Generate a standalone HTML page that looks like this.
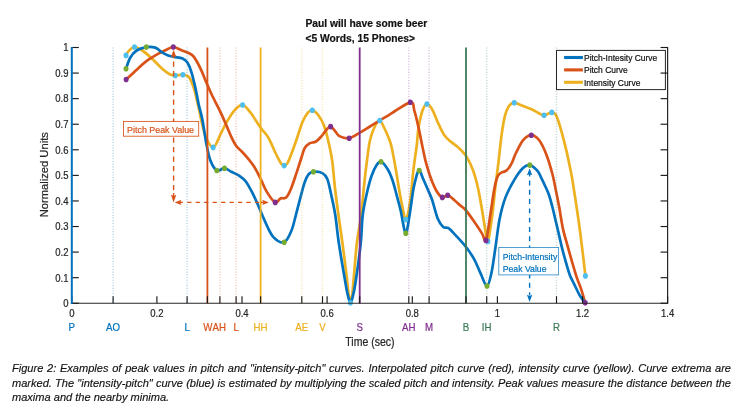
<!DOCTYPE html><html><head><meta charset="utf-8"><title>Figure 2</title><style>
html,body{margin:0;padding:0;background:#fff}body{width:747px;height:409px;position:relative;overflow:hidden;font-family:"Liberation Sans",Arial,sans-serif}
.cap{position:absolute;left:12.4px;width:719px;font-style:italic;font-size:11.05px;line-height:14px;color:#111;-webkit-text-stroke:0.15px #111;white-space:nowrap;letter-spacing:0px}
.j{text-align:justify;text-align-last:justify;white-space:normal}
body>*{opacity:.999;will-change:transform}
</style></head><body>
<svg width="747" height="409" viewBox="0 0 747 409" style="position:absolute;left:0;top:0" font-family="Liberation Sans, Arial, sans-serif"><style>text{stroke-width:0.2px;stroke-linejoin:round}</style>
<g>
<path d="M126.00 55.40C126.50 54.60 127.58 52.00 129.00 50.60C130.42 49.20 132.28 47.02 134.50 47.00C136.72 46.98 139.40 48.58 142.30 50.50C145.20 52.42 148.68 55.55 151.90 58.50C155.12 61.45 158.63 65.58 161.60 68.20C164.57 70.82 167.43 72.98 169.70 74.20C171.97 75.42 173.00 75.42 175.20 75.50C177.40 75.58 180.60 74.43 182.90 74.70C185.20 74.97 187.17 74.82 189.00 77.10C190.83 79.38 192.42 83.83 193.90 88.40C195.38 92.97 196.10 96.95 197.90 104.50C199.70 112.05 202.17 126.55 204.70 133.70C207.23 140.85 210.55 147.13 213.10 147.40C215.65 147.67 217.77 139.47 220.00 135.30C222.23 131.13 224.08 126.57 226.50 122.40C228.92 118.23 231.82 113.20 234.50 110.30C237.18 107.40 239.92 104.60 242.60 105.00C245.28 105.40 247.65 108.98 250.60 112.70C253.55 116.42 257.33 123.13 260.30 127.30C263.27 131.47 265.98 133.67 268.40 137.70C270.82 141.73 273.10 147.92 274.80 151.50C276.50 155.08 277.52 157.15 278.60 159.20C279.68 161.25 280.37 162.73 281.30 163.80C282.23 164.87 283.23 165.60 284.20 165.60C285.17 165.60 286.20 164.97 287.10 163.80C288.00 162.63 288.15 162.27 289.60 158.60C291.05 154.93 293.68 147.83 295.80 141.80C297.92 135.77 300.28 127.25 302.30 122.40C304.32 117.55 306.23 114.72 307.90 112.70C309.57 110.68 310.55 109.88 312.30 110.30C314.05 110.72 316.45 112.65 318.40 115.20C320.35 117.75 322.38 121.43 324.00 125.60C325.62 129.77 326.75 134.42 328.10 140.20C329.45 145.98 330.92 152.00 332.10 160.30C333.28 168.60 334.13 180.83 335.20 190.00C336.27 199.17 337.25 206.13 338.50 215.30C339.75 224.47 341.37 235.05 342.70 245.00C344.03 254.95 345.52 266.83 346.50 275.00C347.48 283.17 347.95 289.37 348.60 294.00C349.25 298.63 349.78 302.80 350.40 302.80C351.02 302.80 351.70 298.63 352.30 294.00C352.90 289.37 353.25 283.42 354.00 275.00C354.75 266.58 355.62 253.45 356.80 243.50C357.98 233.55 359.83 225.50 361.10 215.30C362.37 205.10 363.42 191.47 364.40 182.30C365.38 173.13 366.07 167.32 367.00 160.30C367.93 153.28 368.70 145.83 370.00 140.20C371.30 134.57 373.18 129.78 374.80 126.50C376.42 123.22 378.08 120.17 379.70 120.50C381.32 120.83 382.88 125.28 384.50 128.50C386.12 131.72 388.18 136.55 389.40 139.80C390.62 143.05 390.73 143.10 391.80 148.00C392.87 152.90 394.47 161.63 395.80 169.20C397.13 176.77 398.58 186.55 399.80 193.40C401.02 200.25 402.32 206.33 403.10 210.30C403.88 214.27 404.05 215.65 404.50 217.20C404.95 218.75 405.37 219.60 405.80 219.60C406.23 219.60 406.62 218.75 407.10 217.20C407.58 215.65 408.03 214.27 408.70 210.30C409.37 206.33 410.30 200.25 411.10 193.40C411.90 186.55 412.55 177.27 413.50 169.20C414.45 161.13 415.98 151.78 416.80 145.00C417.62 138.22 417.47 134.20 418.40 128.50C419.33 122.80 420.98 114.88 422.40 110.80C423.82 106.72 425.28 104.27 426.90 104.00C428.52 103.73 430.30 106.18 432.10 109.20C433.90 112.22 435.68 117.80 437.70 122.10C439.72 126.40 442.05 131.77 444.20 135.00C446.35 138.23 448.18 139.35 450.60 141.50C453.02 143.65 456.00 145.30 458.70 147.90C461.40 150.50 464.38 153.28 466.80 157.10C469.22 160.92 471.32 165.57 473.20 170.80C475.08 176.03 476.62 181.92 478.10 188.50C479.58 195.08 480.95 203.72 482.10 210.30C483.25 216.88 484.03 222.82 485.00 228.00C485.97 233.18 486.68 243.57 487.90 241.40C489.12 239.23 491.08 223.78 492.30 215.00C493.52 206.22 494.23 197.00 495.20 188.70C496.17 180.40 497.00 174.42 498.10 165.20C499.20 155.98 500.65 141.67 501.80 133.40C502.95 125.13 503.80 120.17 505.00 115.60C506.20 111.03 507.47 108.15 509.00 106.00C510.53 103.85 512.05 102.77 514.20 102.70C516.35 102.63 519.00 104.52 521.90 105.60C524.80 106.68 528.77 107.93 531.60 109.20C534.43 110.47 536.83 112.20 538.90 113.20C540.97 114.20 541.85 115.33 544.00 115.20C546.15 115.07 549.83 112.47 551.80 112.40C553.77 112.33 554.47 112.60 555.80 114.80C557.13 117.00 558.45 121.30 559.80 125.60C561.15 129.90 562.68 135.93 563.90 140.60C565.12 145.27 566.08 149.12 567.10 153.60C568.12 158.08 569.07 162.80 570.00 167.50C570.93 172.20 571.30 173.17 572.70 181.80C574.10 190.43 576.82 208.17 578.40 219.30C579.98 230.43 581.03 239.17 582.20 248.60C583.37 258.03 584.87 271.35 585.40 275.90" fill="none" stroke="#EDB120" stroke-width="2.7" stroke-linejoin="round" stroke-linecap="round"/>
<path d="M126.10 79.50C127.72 78.02 132.57 73.55 135.80 70.60C139.03 67.65 141.73 64.62 145.50 61.80C149.27 58.98 154.90 55.72 158.40 53.70C161.90 51.68 164.02 50.82 166.50 49.70C168.98 48.58 170.88 46.95 173.30 47.00C175.72 47.05 178.38 48.97 181.00 50.00C183.62 51.03 186.85 52.05 189.00 53.20C191.15 54.35 192.02 54.40 193.90 56.90C195.78 59.40 198.15 63.77 200.30 68.20C202.45 72.63 204.87 79.03 206.80 83.50C208.73 87.97 209.70 90.40 211.90 95.00C214.10 99.60 217.57 106.00 220.00 111.10C222.43 116.20 224.62 121.30 226.50 125.60C228.38 129.90 229.70 133.53 231.30 136.90C232.90 140.27 234.40 143.42 236.10 145.80C237.80 148.18 239.60 149.20 241.50 151.20C243.40 153.20 245.43 155.28 247.50 157.80C249.57 160.32 251.77 162.90 253.90 166.30C256.03 169.70 258.15 173.93 260.30 178.20C262.45 182.47 264.32 187.87 266.80 191.90C269.28 195.93 272.92 201.32 275.20 202.40C277.48 203.48 278.68 199.20 280.50 198.40C282.32 197.60 284.35 199.22 286.10 197.60C287.85 195.98 289.25 192.87 291.00 188.70C292.75 184.53 295.00 177.33 296.60 172.60C298.20 167.87 299.25 164.37 300.60 160.30C301.95 156.23 303.22 151.02 304.70 148.20C306.18 145.38 307.62 144.52 309.50 143.40C311.38 142.28 313.98 142.72 316.00 141.50C318.02 140.28 319.85 138.07 321.60 136.10C323.35 134.13 325.00 131.28 326.50 129.70C328.00 128.12 329.13 126.33 330.60 126.60C332.07 126.87 333.83 129.72 335.30 131.30C336.77 132.88 337.08 134.95 339.40 136.10C341.72 137.25 345.85 138.73 349.20 138.20C352.55 137.67 356.03 134.85 359.50 132.90C362.97 130.95 366.63 128.57 370.00 126.50C373.37 124.43 376.37 122.52 379.70 120.50C383.03 118.48 384.90 117.43 390.00 114.40C395.10 111.37 406.23 102.90 410.30 102.30C414.37 101.70 413.05 106.70 414.40 110.80C415.75 114.90 416.93 120.32 418.40 126.90C419.87 133.48 422.00 144.60 423.20 150.30C424.40 156.00 424.38 156.60 425.60 161.10C426.82 165.60 428.75 172.45 430.50 177.30C432.25 182.15 434.13 186.85 436.10 190.20C438.07 193.55 440.37 196.55 442.30 197.40C444.23 198.25 445.77 194.90 447.70 195.30C449.63 195.70 451.80 198.10 453.90 199.80C456.00 201.50 458.42 203.88 460.30 205.50C462.18 207.12 462.90 206.83 465.20 209.50C467.50 212.17 471.28 217.48 474.10 221.50C476.92 225.52 480.12 230.45 482.10 233.60C484.08 236.75 484.63 243.50 486.00 240.40C487.37 237.30 489.03 222.90 490.30 215.00C491.57 207.10 492.68 198.50 493.60 193.00C494.52 187.50 495.07 184.90 495.80 182.00C496.53 179.10 497.08 177.17 498.00 175.60C498.92 174.03 500.02 173.37 501.30 172.60C502.58 171.83 504.42 171.82 505.70 171.00C506.98 170.18 507.90 169.20 509.00 167.70C510.10 166.20 511.18 164.37 512.30 162.00C513.42 159.63 513.92 157.12 515.70 153.50C517.48 149.88 520.40 143.35 523.00 140.30C525.60 137.25 528.60 135.20 531.30 135.20C534.00 135.20 536.67 137.02 539.20 140.30C541.73 143.58 544.30 149.28 546.50 154.90C548.70 160.52 550.85 168.15 552.40 174.00C553.95 179.85 554.65 184.40 555.80 190.00C556.95 195.60 558.13 201.25 559.30 207.60C560.47 213.95 561.43 221.75 562.80 228.10C564.17 234.45 565.88 239.83 567.50 245.70C569.12 251.57 570.93 257.93 572.50 263.30C574.07 268.67 575.43 273.52 576.90 277.90C578.37 282.28 579.92 285.45 581.30 289.60C582.68 293.75 584.55 300.60 585.20 302.80" fill="none" stroke="#D95319" stroke-width="2.7" stroke-linejoin="round" stroke-linecap="round"/>
<path d="M126.00 68.80C126.70 66.95 128.43 60.75 130.20 57.70C131.97 54.65 133.92 52.27 136.60 50.50C139.28 48.73 143.20 47.58 146.30 47.10C149.40 46.62 152.65 46.77 155.20 47.60C157.75 48.43 159.45 50.77 161.60 52.10C163.75 53.43 165.95 54.80 168.10 55.60C170.25 56.40 172.08 56.42 174.50 56.90C176.92 57.38 180.45 57.55 182.60 58.50C184.75 59.45 185.92 60.30 187.40 62.60C188.88 64.90 190.15 68.00 191.50 72.30C192.85 76.60 194.30 83.03 195.50 88.40C196.70 93.77 197.57 99.37 198.70 104.50C199.83 109.63 201.03 112.72 202.30 119.20C203.57 125.68 204.97 136.55 206.30 143.40C207.63 150.25 208.55 155.78 210.30 160.30C212.05 164.82 214.43 169.18 216.80 170.50C219.17 171.82 222.08 167.98 224.50 168.20C226.92 168.42 228.82 170.53 231.30 171.80C233.78 173.07 236.98 174.18 239.40 175.80C241.82 177.42 243.65 178.68 245.80 181.50C247.95 184.32 250.28 188.82 252.30 192.70C254.32 196.58 255.67 199.75 257.90 204.80C260.13 209.85 263.12 217.62 265.70 223.00C268.28 228.38 270.32 233.90 273.40 237.10C276.48 240.30 281.20 243.27 284.20 242.20C287.20 241.13 289.47 235.18 291.40 230.70C293.33 226.22 294.27 220.95 295.80 215.30C297.33 209.65 299.12 202.30 300.60 196.80C302.08 191.30 303.35 186.07 304.70 182.30C306.05 178.53 307.23 175.95 308.70 174.20C310.17 172.45 311.22 171.98 313.50 171.80C315.78 171.62 320.10 171.90 322.40 173.10C324.70 174.30 325.82 175.32 327.30 179.00C328.78 182.68 329.97 189.15 331.30 195.20C332.63 201.25 334.03 207.25 335.30 215.30C336.57 223.35 337.23 232.38 338.90 243.50C340.57 254.62 343.78 273.25 345.30 282.00C346.82 290.75 347.15 292.53 348.00 296.00C348.85 299.47 349.58 302.80 350.40 302.80C351.22 302.80 352.03 299.47 352.90 296.00C353.77 292.53 354.30 290.75 355.60 282.00C356.90 273.25 359.52 254.62 360.70 243.50C361.88 232.38 361.68 223.63 362.70 215.30C363.72 206.97 365.32 200.08 366.80 193.50C368.28 186.92 369.98 180.50 371.60 175.80C373.22 171.10 374.93 167.65 376.50 165.30C378.07 162.95 379.13 161.05 381.00 161.70C382.87 162.35 385.77 166.07 387.70 169.20C389.63 172.33 391.12 176.20 392.60 180.50C394.08 184.80 395.27 190.03 396.60 195.00C397.93 199.97 399.32 204.55 400.60 210.30C401.88 216.05 403.43 225.67 404.30 229.50C405.17 233.33 405.32 233.30 405.80 233.30C406.28 233.30 406.45 233.33 407.20 229.50C407.95 225.67 409.25 217.13 410.30 210.30C411.35 203.47 412.42 194.42 413.50 188.50C414.58 182.58 416.05 177.60 416.80 174.80C417.55 172.00 417.60 172.40 418.00 171.70C418.40 171.00 418.77 170.48 419.20 170.60C419.63 170.72 419.93 171.02 420.60 172.40C421.27 173.78 421.95 175.93 423.20 178.90C424.45 181.87 426.62 186.72 428.10 190.20C429.58 193.68 430.48 195.03 432.10 199.80C433.72 204.57 435.95 214.28 437.80 218.80C439.65 223.32 441.42 225.33 443.20 226.90C444.98 228.47 446.27 226.63 448.50 228.20C450.73 229.77 453.68 233.17 456.60 236.30C459.52 239.43 463.08 243.20 466.00 247.00C468.92 250.80 471.63 254.62 474.10 259.10C476.57 263.58 478.65 269.42 480.80 273.90C482.95 278.38 485.22 286.22 487.00 286.00C488.78 285.78 490.10 278.97 491.50 272.60C492.90 266.23 494.05 256.73 495.40 247.80C496.75 238.87 497.92 227.40 499.60 219.00C501.28 210.60 503.05 203.92 505.50 197.40C507.95 190.88 511.38 184.78 514.30 179.90C517.22 175.02 520.42 170.57 523.00 168.10C525.58 165.63 527.35 164.60 529.80 165.10C532.25 165.60 535.75 168.87 537.70 171.10C539.65 173.33 540.28 176.07 541.50 178.50C542.72 180.93 543.75 182.95 545.00 185.70C546.25 188.45 547.77 191.45 549.00 195.00C550.23 198.55 551.40 203.17 552.40 207.00C553.40 210.83 554.07 214.08 555.00 218.00C555.93 221.92 556.80 225.40 558.00 230.50C559.20 235.60 560.80 243.02 562.20 248.60C563.60 254.18 565.10 259.52 566.40 264.00C567.70 268.48 568.73 272.20 570.00 275.50C571.27 278.80 572.37 280.47 574.00 283.80C575.63 287.13 577.93 292.33 579.80 295.50C581.67 298.67 584.30 301.58 585.20 302.80" fill="none" stroke="#0072BD" stroke-width="2.7" stroke-linejoin="round" stroke-linecap="round"/>
<line x1="113.1" y1="47.5" x2="113.1" y2="303.2" stroke="#0072BD" stroke-width="1.4" stroke-dasharray="1.1 1.6" opacity="0.3"/>
<line x1="187.1" y1="47.5" x2="187.1" y2="303.2" stroke="#0072BD" stroke-width="1.4" stroke-dasharray="1.1 1.6" opacity="0.3"/>
<line x1="219.9" y1="47.5" x2="219.9" y2="303.2" stroke="#D95319" stroke-width="1.4" stroke-dasharray="1.1 1.6" opacity="0.3"/>
<line x1="236.1" y1="47.5" x2="236.1" y2="303.2" stroke="#D95319" stroke-width="1.4" stroke-dasharray="1.1 1.6" opacity="0.3"/>
<line x1="301.8" y1="47.5" x2="301.8" y2="303.2" stroke="#EDB120" stroke-width="1.4" stroke-dasharray="1.1 1.6" opacity="0.3"/>
<line x1="322.5" y1="47.5" x2="322.5" y2="303.2" stroke="#EDB120" stroke-width="1.4" stroke-dasharray="1.1 1.6" opacity="0.3"/>
<line x1="408.8" y1="47.5" x2="408.8" y2="303.2" stroke="#7E2F8E" stroke-width="1.4" stroke-dasharray="1.1 1.6" opacity="0.3"/>
<line x1="429.1" y1="47.5" x2="429.1" y2="303.2" stroke="#7E2F8E" stroke-width="1.4" stroke-dasharray="1.1 1.6" opacity="0.3"/>
<line x1="486.7" y1="47.5" x2="486.7" y2="303.2" stroke="#3B7A57" stroke-width="1.4" stroke-dasharray="1.1 1.6" opacity="0.3"/>
<line x1="556.5" y1="47.5" x2="556.5" y2="303.2" stroke="#3B7A57" stroke-width="1.4" stroke-dasharray="1.1 1.6" opacity="0.3"/>
<line x1="207.4" y1="47.5" x2="207.4" y2="303.2" stroke="#D95319" stroke-width="1.8"/>
<line x1="260.6" y1="47.5" x2="260.6" y2="303.2" stroke="#EDB120" stroke-width="1.8"/>
<line x1="359.7" y1="47.5" x2="359.7" y2="303.2" stroke="#7E2F8E" stroke-width="1.8"/>
<line x1="466.0" y1="47.5" x2="466.0" y2="303.2" stroke="#3B7A57" stroke-width="1.8"/>
<ellipse cx="126.0" cy="55.4" rx="2.5" ry="2.82" fill="#4DBEEE"/>
<ellipse cx="134.5" cy="47.0" rx="2.5" ry="2.82" fill="#4DBEEE"/>
<ellipse cx="175.2" cy="75.5" rx="2.5" ry="2.82" fill="#4DBEEE"/>
<ellipse cx="182.9" cy="74.7" rx="2.5" ry="2.82" fill="#4DBEEE"/>
<ellipse cx="213.1" cy="147.4" rx="2.5" ry="2.82" fill="#4DBEEE"/>
<ellipse cx="242.6" cy="105.0" rx="2.5" ry="2.82" fill="#4DBEEE"/>
<ellipse cx="284.2" cy="165.6" rx="2.5" ry="2.82" fill="#4DBEEE"/>
<ellipse cx="312.3" cy="110.3" rx="2.5" ry="2.82" fill="#4DBEEE"/>
<ellipse cx="350.4" cy="302.8" rx="2.5" ry="2.82" fill="#4DBEEE"/>
<ellipse cx="379.7" cy="120.5" rx="2.5" ry="2.82" fill="#4DBEEE"/>
<ellipse cx="405.8" cy="219.6" rx="2.5" ry="2.82" fill="#4DBEEE"/>
<ellipse cx="426.9" cy="104.0" rx="2.5" ry="2.82" fill="#4DBEEE"/>
<ellipse cx="487.9" cy="241.4" rx="2.5" ry="2.82" fill="#4DBEEE"/>
<ellipse cx="514.2" cy="102.7" rx="2.5" ry="2.82" fill="#4DBEEE"/>
<ellipse cx="544.0" cy="115.2" rx="2.5" ry="2.82" fill="#4DBEEE"/>
<ellipse cx="551.8" cy="112.4" rx="2.5" ry="2.82" fill="#4DBEEE"/>
<ellipse cx="585.4" cy="275.9" rx="2.5" ry="2.82" fill="#4DBEEE"/>
<ellipse cx="126.0" cy="68.8" rx="2.5" ry="2.82" fill="#77AC30"/>
<ellipse cx="146.3" cy="47.1" rx="2.5" ry="2.82" fill="#77AC30"/>
<ellipse cx="216.8" cy="170.5" rx="2.5" ry="2.82" fill="#77AC30"/>
<ellipse cx="224.5" cy="168.2" rx="2.5" ry="2.82" fill="#77AC30"/>
<ellipse cx="284.2" cy="242.2" rx="2.5" ry="2.82" fill="#77AC30"/>
<ellipse cx="313.5" cy="171.8" rx="2.5" ry="2.82" fill="#77AC30"/>
<ellipse cx="381.0" cy="161.7" rx="2.5" ry="2.82" fill="#77AC30"/>
<ellipse cx="405.8" cy="233.3" rx="2.5" ry="2.82" fill="#77AC30"/>
<ellipse cx="419.2" cy="170.5" rx="2.5" ry="2.82" fill="#77AC30"/>
<ellipse cx="487.0" cy="286.0" rx="2.5" ry="2.82" fill="#77AC30"/>
<ellipse cx="529.8" cy="165.1" rx="2.5" ry="2.82" fill="#77AC30"/>
<ellipse cx="126.1" cy="79.5" rx="2.5" ry="2.82" fill="#7E2F8E"/>
<ellipse cx="173.3" cy="47.0" rx="2.5" ry="2.82" fill="#7E2F8E"/>
<ellipse cx="275.2" cy="202.4" rx="2.5" ry="2.82" fill="#7E2F8E"/>
<ellipse cx="330.6" cy="126.6" rx="2.5" ry="2.82" fill="#7E2F8E"/>
<ellipse cx="349.2" cy="138.2" rx="2.5" ry="2.82" fill="#7E2F8E"/>
<ellipse cx="410.3" cy="102.3" rx="2.5" ry="2.82" fill="#7E2F8E"/>
<ellipse cx="442.3" cy="197.4" rx="2.5" ry="2.82" fill="#7E2F8E"/>
<ellipse cx="447.7" cy="195.3" rx="2.5" ry="2.82" fill="#7E2F8E"/>
<ellipse cx="486.0" cy="240.4" rx="2.5" ry="2.82" fill="#7E2F8E"/>
<ellipse cx="531.3" cy="135.2" rx="2.5" ry="2.82" fill="#7E2F8E"/>
<ellipse cx="585.2" cy="302.8" rx="2.5" ry="2.82" fill="#7E2F8E"/>
<g stroke="#D95319" stroke-width="1.4" fill="none">
<line x1="173.6" y1="61.5" x2="173.6" y2="191" stroke-dasharray="5.2 4.3"/>
<line x1="173.6" y1="56" x2="173.6" y2="58.3"/><line x1="173.6" y1="193" x2="173.6" y2="196"/>
<line x1="187.2" y1="202.4" x2="260" y2="202.4" stroke-dasharray="4.2 4.27"/>
<line x1="180" y1="202.4" x2="182.8" y2="202.4"/><line x1="261" y1="202.4" x2="263.4" y2="202.4"/>
</g>
<path d="M173.6 49.7 L176.3 57.1 L173.6 56 L170.9 57.1Z" fill="#D95319"/>
<path d="M173.6 202.4 L176.3 194.8 L173.6 196 L170.9 194.8Z" fill="#D95319"/>
<path d="M174.7 202.4 L181.3 199.8 L180.3 202.4 L181.3 205Z" fill="#D95319"/>
<path d="M268.8 202.4 L262.3 199.8 L263.3 202.4 L262.3 205Z" fill="#D95319"/>
<g stroke="#0072BD" stroke-width="1.4" fill="none">
<line x1="529.6" y1="180.5" x2="529.6" y2="290" stroke-dasharray="4.9 4.4"/>
<line x1="529.6" y1="174" x2="529.6" y2="176.5"/><line x1="529.6" y1="292.3" x2="529.6" y2="295.5"/>
</g>
<path d="M529.6 168.6 L532.3 175.3 L529.6 174.2 L526.9 175.3Z" fill="#0072BD"/>
<path d="M529.6 301.9 L532.3 294.8 L529.6 296 L526.9 294.8Z" fill="#0072BD"/>
<rect x="123.5" y="121.4" width="75.2" height="14.8" fill="#fff" stroke="#D95319" stroke-width="0.85"/>
<text stroke-width="0" transform="translate(127.1 133.2) scale(1 1.0)" font-size="8.9" fill="#D95319" stroke="#D95319">Pitch Peak Value</text>
<rect x="498.8" y="247.5" width="59.8" height="27.4" fill="#fff" stroke="#0072BD" stroke-width="0.85" stroke-opacity="0.8"/>
<text stroke-width="0" transform="translate(502.7 259.9) scale(1 1.0)" font-size="8.7" fill="#0072BD" stroke="#0072BD">Pitch-Intensity</text>
<text stroke-width="0" transform="translate(502.7 272.1) scale(1 1.0)" font-size="8.7" fill="#0072BD" stroke="#0072BD">Peak Value</text>
<rect x="556.5" y="50.4" width="108.9" height="39.2" fill="#fff" stroke="#262626" stroke-width="1"/>
<line x1="564.1" y1="57.5" x2="582.9" y2="57.5" stroke="#0072BD" stroke-width="3.1"/>
<text transform="translate(584.0 61.0) scale(1 1.13)" font-size="8.46" fill="#111" stroke="#111">Pitch-Intesity Curve</text>
<line x1="564.1" y1="69.9" x2="582.9" y2="69.9" stroke="#D95319" stroke-width="3.1"/>
<text transform="translate(584.0 73.4) scale(1 1.13)" font-size="8.46" fill="#111" stroke="#111">Pitch Curve</text>
<line x1="564.1" y1="82.3" x2="582.9" y2="82.3" stroke="#EDB120" stroke-width="3.1"/>
<text transform="translate(584.0 85.8) scale(1 1.13)" font-size="8.46" fill="#111" stroke="#111">Intensity Curve</text>
<g stroke="#262626" stroke-width="1.2" fill="none">
<line x1="70.8" y1="303.25" x2="668.2" y2="303.25"/>
<line x1="667.6" y1="46.90" x2="667.6" y2="303.25"/>
</g><g stroke="#1a1a1a" stroke-width="1.15" fill="none">
<line x1="71.8" y1="303.25" x2="71.8" y2="296.25"/>
<line x1="156.9" y1="303.25" x2="156.9" y2="296.25"/>
<line x1="242.0" y1="303.25" x2="242.0" y2="296.25"/>
<line x1="327.1" y1="303.25" x2="327.1" y2="296.25"/>
<line x1="412.3" y1="303.25" x2="412.3" y2="296.25"/>
<line x1="497.4" y1="303.25" x2="497.4" y2="296.25"/>
<line x1="582.5" y1="303.25" x2="582.5" y2="296.25"/>
<line x1="667.6" y1="303.25" x2="667.6" y2="296.25"/>
<line x1="113.1" y1="303.25" x2="113.1" y2="296.25"/>
<line x1="187.1" y1="303.25" x2="187.1" y2="296.25"/>
<line x1="207.4" y1="303.25" x2="207.4" y2="296.25"/>
<line x1="219.9" y1="303.25" x2="219.9" y2="296.25"/>
<line x1="236.1" y1="303.25" x2="236.1" y2="296.25"/>
<line x1="260.6" y1="303.25" x2="260.6" y2="296.25"/>
<line x1="301.8" y1="303.25" x2="301.8" y2="296.25"/>
<line x1="322.5" y1="303.25" x2="322.5" y2="296.25"/>
<line x1="359.7" y1="303.25" x2="359.7" y2="296.25"/>
<line x1="408.8" y1="303.25" x2="408.8" y2="296.25"/>
<line x1="429.1" y1="303.25" x2="429.1" y2="296.25"/>
<line x1="466.0" y1="303.25" x2="466.0" y2="296.25"/>
<line x1="486.7" y1="303.25" x2="486.7" y2="296.25"/>
<line x1="556.5" y1="303.25" x2="556.5" y2="296.25"/>
<line x1="71.8" y1="303.25" x2="78.8" y2="303.25"/>
<line x1="667.6" y1="303.25" x2="660.6" y2="303.25"/>
<line x1="71.8" y1="277.68" x2="78.8" y2="277.68"/>
<line x1="667.6" y1="277.68" x2="660.6" y2="277.68"/>
<line x1="71.8" y1="252.10" x2="78.8" y2="252.10"/>
<line x1="667.6" y1="252.10" x2="660.6" y2="252.10"/>
<line x1="71.8" y1="226.53" x2="78.8" y2="226.53"/>
<line x1="667.6" y1="226.53" x2="660.6" y2="226.53"/>
<line x1="71.8" y1="200.95" x2="78.8" y2="200.95"/>
<line x1="667.6" y1="200.95" x2="660.6" y2="200.95"/>
<line x1="71.8" y1="175.38" x2="78.8" y2="175.38"/>
<line x1="667.6" y1="175.38" x2="660.6" y2="175.38"/>
<line x1="71.8" y1="149.80" x2="78.8" y2="149.80"/>
<line x1="667.6" y1="149.80" x2="660.6" y2="149.80"/>
<line x1="71.8" y1="124.23" x2="78.8" y2="124.23"/>
<line x1="667.6" y1="124.23" x2="660.6" y2="124.23"/>
<line x1="71.8" y1="98.65" x2="78.8" y2="98.65"/>
<line x1="667.6" y1="98.65" x2="660.6" y2="98.65"/>
<line x1="71.8" y1="73.07" x2="78.8" y2="73.07"/>
<line x1="667.6" y1="73.07" x2="660.6" y2="73.07"/>
<line x1="71.8" y1="47.50" x2="78.8" y2="47.50"/>
<line x1="667.6" y1="47.50" x2="660.6" y2="47.50"/>
</g>
<line x1="71.8" y1="46.90" x2="71.8" y2="303.75" stroke="#0072BD" stroke-width="2"/>
<g font-size="9.5" fill="#262626" stroke="#262626">
<text transform="translate(71.8 317.2) scale(1 1.13)" text-anchor="middle">0</text>
<text transform="translate(156.9 317.2) scale(1 1.13)" text-anchor="middle">0.2</text>
<text transform="translate(242.0 317.2) scale(1 1.13)" text-anchor="middle">0.4</text>
<text transform="translate(327.1 317.2) scale(1 1.13)" text-anchor="middle">0.6</text>
<text transform="translate(412.3 317.2) scale(1 1.13)" text-anchor="middle">0.8</text>
<text transform="translate(497.4 317.2) scale(1 1.13)" text-anchor="middle">1</text>
<text transform="translate(582.5 317.2) scale(1 1.13)" text-anchor="middle">1.2</text>
<text transform="translate(667.6 317.2) scale(1 1.13)" text-anchor="middle">1.4</text>
<text transform="translate(68.5 307.1) scale(1 1.13)" text-anchor="end">0</text>
<text transform="translate(68.5 281.5) scale(1 1.13)" text-anchor="end">0.1</text>
<text transform="translate(68.5 255.9) scale(1 1.13)" text-anchor="end">0.2</text>
<text transform="translate(68.5 230.3) scale(1 1.13)" text-anchor="end">0.3</text>
<text transform="translate(68.5 204.8) scale(1 1.13)" text-anchor="end">0.4</text>
<text transform="translate(68.5 179.2) scale(1 1.13)" text-anchor="end">0.5</text>
<text transform="translate(68.5 153.6) scale(1 1.13)" text-anchor="end">0.6</text>
<text transform="translate(68.5 128.0) scale(1 1.13)" text-anchor="end">0.7</text>
<text transform="translate(68.5 102.4) scale(1 1.13)" text-anchor="end">0.8</text>
<text transform="translate(68.5 76.9) scale(1 1.13)" text-anchor="end">0.9</text>
<text transform="translate(68.5 51.3) scale(1 1.13)" text-anchor="end">1</text>
</g>
<g font-size="9.7">
<text transform="translate(71.8 331.0) scale(1 1.13)" fill="#0072BD" stroke="#0072BD" text-anchor="middle">P</text>
<text transform="translate(113.1 331.0) scale(1 1.13)" fill="#0072BD" stroke="#0072BD" text-anchor="middle">AO</text>
<text transform="translate(187.1 331.0) scale(1 1.13)" fill="#0072BD" stroke="#0072BD" text-anchor="middle">L</text>
<text transform="translate(207.7 331.0) scale(1 1.13)" fill="#D95319" stroke="#D95319" text-anchor="middle">W</text>
<text transform="translate(219.2 331.0) scale(1 1.13)" fill="#D95319" stroke="#D95319" text-anchor="middle">AH</text>
<text transform="translate(236.1 331.0) scale(1 1.13)" fill="#D95319" stroke="#D95319" text-anchor="middle">L</text>
<text transform="translate(260.6 331.0) scale(1 1.13)" fill="#EDB120" stroke="#EDB120" text-anchor="middle">HH</text>
<text transform="translate(301.8 331.0) scale(1 1.13)" fill="#EDB120" stroke="#EDB120" text-anchor="middle">AE</text>
<text transform="translate(322.5 331.0) scale(1 1.13)" fill="#EDB120" stroke="#EDB120" text-anchor="middle">V</text>
<text transform="translate(359.7 331.0) scale(1 1.13)" fill="#7E2F8E" stroke="#7E2F8E" text-anchor="middle">S</text>
<text transform="translate(408.8 331.0) scale(1 1.13)" fill="#7E2F8E" stroke="#7E2F8E" text-anchor="middle">AH</text>
<text transform="translate(429.1 331.0) scale(1 1.13)" fill="#7E2F8E" stroke="#7E2F8E" text-anchor="middle">M</text>
<text transform="translate(466.0 331.0) scale(1 1.13)" fill="#3B7A57" stroke="#3B7A57" text-anchor="middle">B</text>
<text transform="translate(486.7 331.0) scale(1 1.13)" fill="#3B7A57" stroke="#3B7A57" text-anchor="middle">IH</text>
<text transform="translate(556.5 331.0) scale(1 1.13)" fill="#3B7A57" stroke="#3B7A57" text-anchor="middle">R</text>
</g>
<text transform="translate(369.9 345.5) scale(1 1.13)" font-size="10.5" fill="#262626" stroke="#262626" text-anchor="middle">Time (sec)</text>
<text transform="translate(47.9 174.75) rotate(-90) scale(1.087 1)" text-anchor="middle" font-size="10.3" fill="#262626" stroke="#262626">Normalized Units</text>
<text transform="translate(305.4 26.9) scale(1 1.01)" font-size="10.3" fill="#111" stroke="#111" font-weight="bold">Paul will have some beer</text>
<text transform="translate(305.4 42.2) scale(1 1.01)" font-size="10.3" fill="#111" stroke="#111" font-weight="bold">&lt;5 Words, 15 Phones&gt;</text>
</g></svg>
<div class="cap j" style="top:360.8px">Figure 2: Examples of peak values in pitch and "intensity-pitch" curves. Interpolated pitch curve (red), intensity curve (yellow). Curve extrema are</div>
<div class="cap j" style="top:375.5px">marked. The "intensity-pitch" curve (blue) is estimated by multiplying the scaled pitch and intensity. Peak values measure the distance between the</div>
<div class="cap" style="top:389.6px">maxima and the nearby minima.</div>
</body></html>
